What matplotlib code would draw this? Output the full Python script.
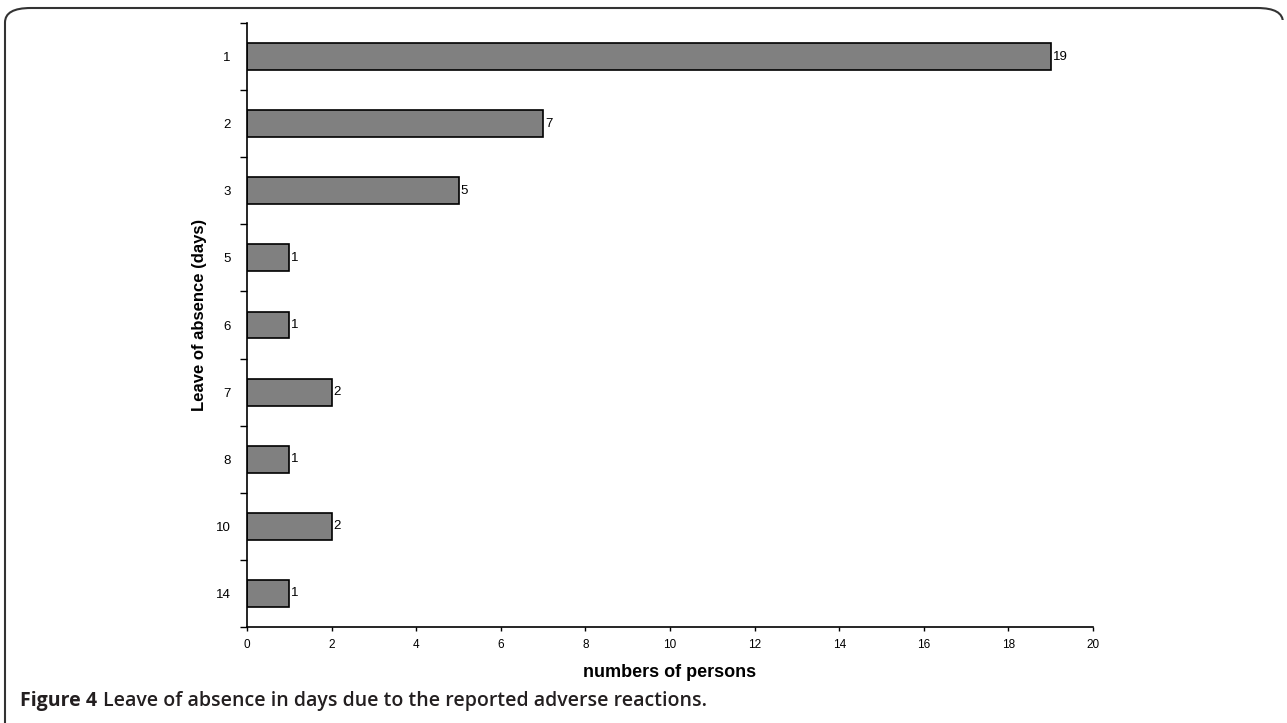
import matplotlib.pyplot as plt
from matplotlib.patches import FancyBboxPatch

# data
days = ['1', '2', '3', '5', '6', '7', '8', '10', '14']
persons = [19, 7, 5, 1, 1, 2, 1, 2, 1]
x_ticks = [0, 2, 4, 6, 8, 10, 12, 14, 16, 18, 20]

W, H = 1287, 723
fig = plt.figure(figsize=(W / 100, H / 100), dpi=100)
plt.rcParams['font.family'] = ['Liberation Sans', 'DejaVu Sans']

ax = fig.add_axes([247 / W, 1 - 627 / H, (1093 - 247) / W, (627 - 23) / H])

pos = list(range(len(days)))
ax.barh(pos, persons, height=0.4, color='#808080',
        edgecolor='black', linewidth=1.2)
for p, v in zip(pos, persons):
    ax.text(v + 0.05, p, str(v), va='center', ha='left', fontsize=9.5)

ax.set_ylim(len(days) - 0.5, -0.5)
ax.set_xlim(0, 20)
ax.set_xticks(x_ticks)
ax.set_xticklabels([str(t) for t in x_ticks], fontsize=8.5)
ax.set_yticks(pos)
ax.set_yticklabels(days, fontsize=9.5)
ax.tick_params(axis='y', length=0, pad=12)
ax.tick_params(axis='x', length=3, width=1, pad=6)
# category boundary ticks on the y axis
ax.set_yticks([p - 0.5 for p in pos] + [len(days) - 0.5], minor=True)
ax.tick_params(axis='y', which='minor', length=5, width=1)

for s in ['top', 'right']:
    ax.spines[s].set_visible(False)
for s in ['left', 'bottom']:
    ax.spines[s].set_linewidth(1.2)

ax.set_xlabel('numbers of persons', fontsize=13, fontweight='bold')
ax.xaxis.set_label_coords(0.5, -0.062)
ax.set_ylabel('Leave of absence (days)', fontsize=12, fontweight='bold')
ax.yaxis.set_label_coords(-0.047, 0.517)

# caption
cap_font = ['Open Sans', 'DejaVu Sans']
t1 = fig.text(20 / W, 1 - 701 / H, 'Figure 4', fontsize=14, fontweight='bold',
              family=cap_font, va='center', ha='left', color='#231f20')
fig.canvas.draw()
bb = t1.get_window_extent()
fig.text((bb.x1 + 6) / W, 1 - 701 / H,
         'Leave of absence in days due to the reported adverse reactions.',
         fontsize=14, family=cap_font, va='center', ha='left', color='#231f20',
         fontweight='semibold')

# partial rounded frame around the figure
frame = FancyBboxPatch((5 / W, -0.05), (1283 - 5) / W, (1 + 0.05 - 8 / H),
                       boxstyle='round,pad=0,rounding_size=0.02',
                       transform=fig.transFigure, fill=False,
                       edgecolor='#333333', linewidth=1.5)
fig.patches.append(frame)
# cover the right side so only top/left remain like the reference
fig.patches.append(plt.Rectangle((1278 / W, -0.1), 0.1, 1 - 20 / H + 0.1,
                                 transform=fig.transFigure, facecolor='white',
                                 edgecolor='none', zorder=5))

fig.savefig('out.png', dpi=100)
